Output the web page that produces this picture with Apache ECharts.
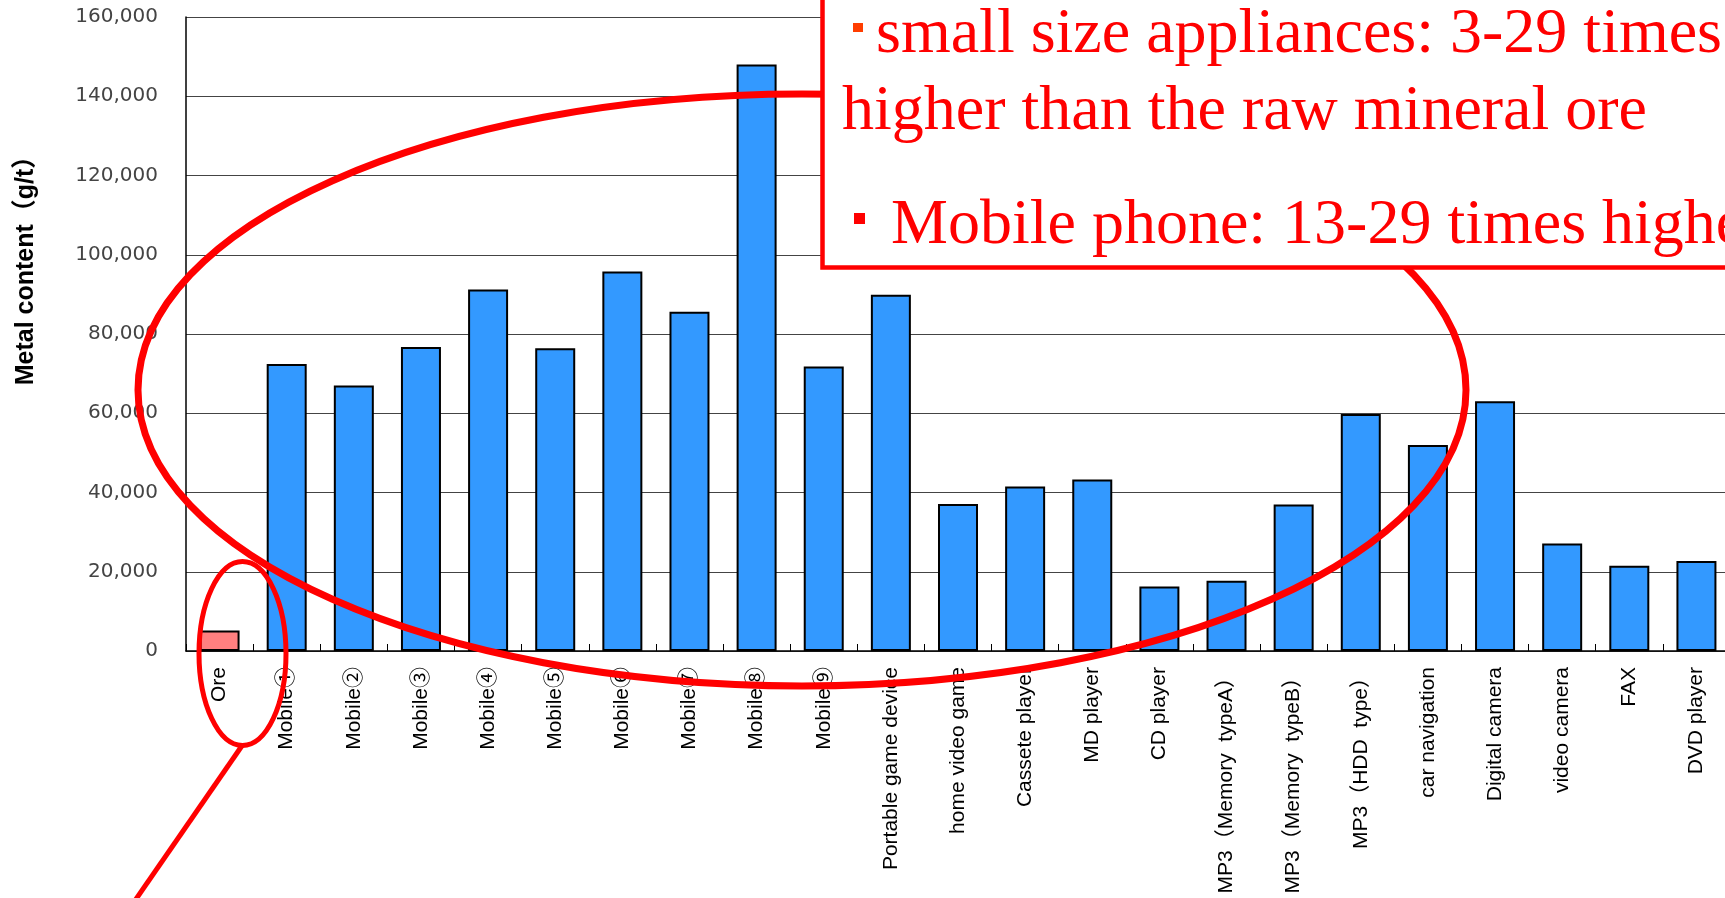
<!DOCTYPE html>
<html>
<head>
<meta charset="utf-8">
<title>Metal content of appliances vs ore</title>
<script src="https://cdn.jsdelivr.net/npm/echarts@6/dist/echarts.min.js"></script>
<style>
  html, body { margin: 0; padding: 0; background: #fff; }
  #chart { width: 1725px; height: 898px; }
</style>
</head>
<body>
<div id="chart"></div>
<script>
// Product categories along the x axis
const categories = [
  'Ore',
  'Mobile①', 'Mobile②', 'Mobile③', 'Mobile④', 'Mobile⑤',
  'Mobile⑥', 'Mobile⑦', 'Mobile⑧', 'Mobile⑨',
  'Portable game device', 'home video game', 'Cassete player', 'MD player',
  'CD player', 'MP3（Memory  typeA）', 'MP3（Memory  typeB）', 'MP3（HDD  type）',
  'car navigation', 'Digital camera', 'video camera', 'FAX', 'DVD player'
];

// Metal content in g/t
const metalContent = [
  5200,
  72400, 67000, 76700, 91200, 76400,
  95800, 85600, 148000, 71800,
  89900, 37100, 41500, 43300,
  16300, 17700, 37000, 59800,
  52000, 63000, 27100, 21500, 22700
];

// Value-axis ticks
const yTicks = [0, 20000, 40000, 60000, 80000, 100000, 120000, 140000, 160000];

const yTitle = 'Metal content（g/t）';
const noteLine1 = 'small size appliances: 3-29 times';
const noteLine2 = 'higher than the raw mineral ore';
const noteLine3 = 'Mobile phone: 13-29 times higher';

const RED = '#FF0000';

const chart = echarts.init(document.getElementById('chart'));

const barData = metalContent.map((v, i) => ({
  value: v,
  itemStyle: { color: i === 0 ? '#FF8080' : '#3399FF' }
}));

chart.setOption({
  animation: false,
  backgroundColor: '#fff',
  grid: {
    left: 186, right: -5, top: 17, bottom: 247,
    containLabel: false,
    outerBoundsMode: 'none'
  },
  xAxis: {
    type: 'category',
    data: categories,
    boundaryGap: true,
    axisLine: { lineStyle: { color: '#000', width: 1.5 } },
    axisTick: { show: true, inside: true, length: 7, lineStyle: { color: '#000', width: 1 } },
    axisLabel: {
      interval: 0,
      rotate: 90,
      margin: 16,
      fontSize: 21,
      fontFamily: '"Liberation Sans", "Noto Sans CJK JP", sans-serif',
      color: '#000'
    },
    splitLine: { show: false }
  },
  yAxis: {
    type: 'value',
    min: yTicks[0],
    max: yTicks[yTicks.length - 1],
    interval: yTicks[1] - yTicks[0],
    axisLine: { show: true, lineStyle: { color: '#000', width: 1.5 } },
    axisTick: { show: false },
    axisLabel: {
      margin: 28,
      fontSize: 20,
      fontFamily: '"DejaVu Sans", sans-serif',
      color: '#444',
      formatter: v => v.toLocaleString('en-US')
    },
    splitLine: { show: true, lineStyle: { color: '#444', width: 1 } }
  },
  series: [{
    type: 'bar',
    data: barData,
    barWidth: 40,
    itemStyle: { borderColor: '#000', borderWidth: 2 }
  }],
  graphic: [
    // vertical axis title
    {
      type: 'text', z: 50,
      x: 26, y: 264.5, rotation: Math.PI / 2,
      style: {
        text: yTitle,
        font: 'bold 25px "Liberation Sans", "Noto Sans CJK JP", sans-serif',
        fill: '#000', align: 'center', verticalAlign: 'middle'
      }
    },
    // large highlight ellipse around the appliances
    {
      type: 'ellipse', z: 60,
      shape: { cx: 802, cy: 390, rx: 664, ry: 296 },
      style: { fill: null, stroke: RED, lineWidth: 7 }
    },
    // small ellipse around the ore bar and its pointer line
    {
      type: 'ellipse', z: 60,
      shape: { cx: 242.5, cy: 653.5, rx: 43.5, ry: 92 },
      style: { fill: null, stroke: RED, lineWidth: 5 }
    },
    {
      type: 'line', z: 60,
      shape: { x1: 242.5, y1: 745, x2: 134, y2: 902 },
      style: { stroke: RED, lineWidth: 5 }
    },
    // note box
    {
      type: 'rect', z: 70,
      shape: { x: 822.5, y: -20, width: 1000, height: 287.5 },
      style: { fill: '#fff', stroke: RED, lineWidth: 4.5 }
    },
    {
      type: 'rect', z: 71,
      shape: { x: 853, y: 23, width: 10, height: 9 },
      style: { fill: '#FF3D00' }
    },
    {
      type: 'text', z: 72,
      x: 876, y: 35,
      style: {
        text: noteLine1,
        font: '64px "Liberation Serif", serif',
        fill: RED, align: 'left', verticalAlign: 'middle'
      }
    },
    {
      type: 'text', z: 72,
      x: 842, y: 112,
      style: {
        text: noteLine2,
        font: '64px "Liberation Serif", serif',
        fill: RED, align: 'left', verticalAlign: 'middle'
      }
    },
    {
      type: 'rect', z: 71,
      shape: { x: 854, y: 213, width: 11, height: 11 },
      style: { fill: RED }
    },
    {
      type: 'text', z: 72,
      x: 891, y: 226,
      style: {
        text: noteLine3,
        font: '64px "Liberation Serif", serif',
        fill: RED, align: 'left', verticalAlign: 'middle'
      }
    }
  ]
});
</script>
</body>
</html>
